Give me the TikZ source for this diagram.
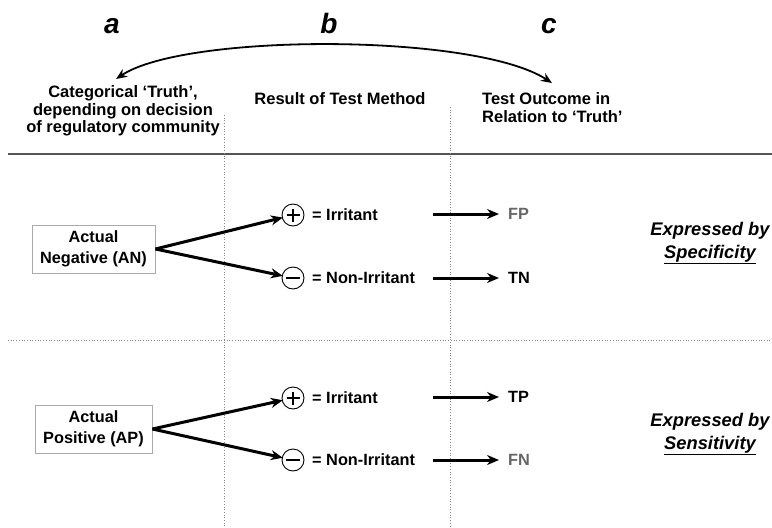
\documentclass[tikz,border=0pt]{standalone}
\usepackage{fontspec}
\setmainfont{Liberation Sans}
\usetikzlibrary{arrows.meta}
\definecolor{rulegray}{HTML}{555555}
\definecolor{dotgray}{HTML}{888888}
\definecolor{boxgray}{HTML}{AAAAAA}
\definecolor{falsegray}{HTML}{666666}
\tikzset{
  colhead/.style={font=\fontsize{28}{28}\selectfont\bfseries\itshape, anchor=base, inner sep=0pt},
  hdr/.style={font=\fontsize{16.5}{17.5}\selectfont\bfseries, inner sep=0pt},
  lbl/.style={font=\fontsize{16.3}{18}\selectfont\bfseries, inner sep=0pt},
  truthbox/.style={draw=boxgray, line width=0.9pt, fill=white, align=center,
    font=\fontsize{16.3}{20.5}\selectfont\bfseries, inner sep=0pt},
  sign/.style={circle, draw, line width=0.9pt, minimum size=22pt, inner sep=0pt},
  plussign/.style={sign, path picture={
      \draw[line width=1.1pt] ([xshift=-6.5pt]path picture bounding box.center) -- ([xshift=6.5pt]path picture bounding box.center);
      \draw[line width=1.1pt] ([yshift=-6.5pt]path picture bounding box.center) -- ([yshift=6.5pt]path picture bounding box.center);}},
  minussign/.style={sign, path picture={
      \draw[line width=1.1pt] ([xshift=-7pt]path picture bounding box.center) -- ([xshift=7pt]path picture bounding box.center);}},
  branch/.style={line width=3pt, -{Stealth[length=12pt,width=10pt]}, shorten >=-1pt},
  outcome/.style={line width=3pt, -{Stealth[length=12pt,width=10pt]}},
  expr/.style={font=\fontsize{18.3}{23}\selectfont\bfseries\itshape, align=center, inner sep=0pt},
  divider/.style={dotgray, line width=0.7pt, dotted},
}
\begin{document}
\begin{tikzpicture}[x=1pt,y=-1pt]
\useasboundingbox (0,0) rectangle (772,528);

% column letters
\node[colhead] (la) at (112,33) {a};
\node[colhead] (lb) at (329,33) {b};
\node[colhead] (lc) at (549,33) {c};

% arrow linking the truth column with the outcome column
\coordinate (truthend) at (116,79);
\coordinate (outend) at (552,83);
\draw[line width=1.8pt, {Stealth[length=11pt,width=9pt]}-{Stealth[length=11pt,width=9pt]}]
  (truthend) .. controls (185,33) and (475,33) .. (outend);

% column headings
\node[hdr, align=center] (ha) at (123,111) {Categorical ‘Truth’,\\depending on decision\\of regulatory community};
\node[hdr] (hb) at (340,99) {Result of Test Method};
\node[hdr, align=left, anchor=west] (hc) at (482,107.5) {Test Outcome in\\Relation to ‘Truth’};

% rules and column dividers
\draw[rulegray, line width=1.3pt] (8,154) -- (772,154);
\draw[divider] (224,115) -- (224,528);
\draw[divider] (450,107) -- (450,528);
\draw[divider] (8,340) -- (772,340);

% actual negative block
\node[truthbox, minimum width=123pt, minimum height=48pt] (an) at (93.5,249) {Actual\\Negative (AN)};
\node[plussign] (anp) at (293,215) {};
\node[minussign] (anm) at (293,278) {};
\draw[branch] (an.east) -- (anp);
\draw[branch] (an.east) -- (anm);
\node[lbl, anchor=west] (anpl) at (312,215) {= Irritant};
\node[lbl, anchor=west] (anml) at (312,278) {= Non-Irritant};
\node[lbl, anchor=west, text=falsegray] (fp) at (508,214) {FP};
\node[lbl, anchor=west] (tn) at (508,278) {TN};
\coordinate (fps) at (433,214);
\coordinate (tns) at (433,278);
\draw[outcome] (fps) -- ([xshift=-9pt]fp.west);
\draw[outcome] (tns) -- ([xshift=-9pt]tn.west);
\node[expr] (spec) at (710,243) {Expressed by\\\underline{Specificity}};

% actual positive block
\node[truthbox, minimum width=117pt, minimum height=48pt] (ap) at (93.5,429) {Actual\\Positive (AP)};
\node[plussign] (app) at (293,398) {};
\node[minussign] (apm) at (293,460) {};
\draw[branch] (ap.east) -- (app);
\draw[branch] (ap.east) -- (apm);
\node[lbl, anchor=west] (appl) at (312,398) {= Irritant};
\node[lbl, anchor=west] (apml) at (312,460) {= Non-Irritant};
\node[lbl, anchor=west] (tp) at (508,397) {TP};
\node[lbl, anchor=west, text=falsegray] (fn) at (508,460) {FN};
\coordinate (tps) at (433,397);
\coordinate (fns) at (433,460);
\draw[outcome] (tps) -- ([xshift=-9pt]tp.west);
\draw[outcome] (fns) -- ([xshift=-9pt]fn.west);
\node[expr] (sens) at (710,434) {Expressed by\\\underline{Sensitivity}};
\end{tikzpicture}
\end{document}
